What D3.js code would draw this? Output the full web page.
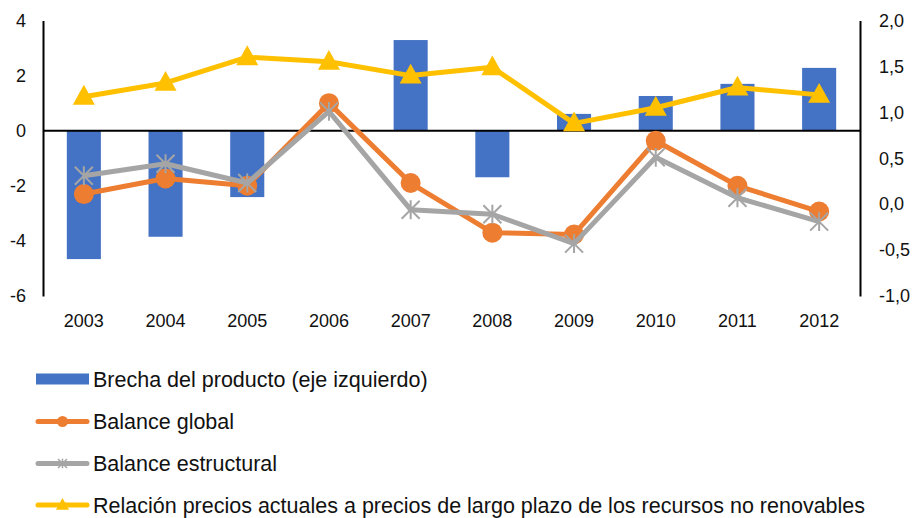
<!DOCTYPE html>
<html><head><meta charset="utf-8">
<script src="https://cdn.jsdelivr.net/npm/d3@7"></script>
<style>
html,body{margin:0;padding:0;background:#fff;}
svg{display:block;font-family:"Liberation Sans",Arial,sans-serif;}
</style></head>
<body><svg id="c" width="914" height="518"></svg>
<script>
const years = ["2003","2004","2005","2006","2007","2008","2009","2010","2011","2012"];
const brecha = [-4.66,-3.85,-2.41,0,3.29,-1.69,0.61,1.26,1.70,2.28];
const balanceGlobal = [0.11,0.28,0.20,1.10,0.23,-0.31,-0.33,0.69,0.20,-0.08];
const balanceEstructural = [0.31,0.44,0.23,1.01,-0.06,-0.11,-0.43,0.51,0.07,-0.19];
const relacionPrecios = [1.17,1.32,1.60,1.55,1.40,1.49,0.88,1.05,1.27,1.19];
const leftTicks = [-6,-4,-2,0,2,4];
const rightTicks = [-1,-0.5,0,0.5,1,1.5,2];
const legendLabels = ["Brecha del producto (eje izquierdo)","Balance global","Balance estructural","Relación precios actuales a precios de largo plazo de los recursos no renovables"];

const colors = {bar:"#4472C4", orange:"#ED7D31", grey:"#A5A5A5", yellow:"#FFC000"};
const svg = d3.select("#c");
const L = 43, R = 860, T = 20.5, B = 296;

const x = d3.scaleBand().domain(years).range([L,R]).paddingInner(0.583).paddingOuter(0.2915);
const cx = d => x(d) + x.bandwidth()/2;
const yL = d3.scaleLinear().domain([-6,4]).range([B,T]);
const yR = d3.scaleLinear().domain([-1,2]).range([B,T]);

const fmtR = d => d3.format(".1f")(d).replace(".",",").replace("−","-");

// axes
const gl = svg.append("g").attr("transform",`translate(${L},0)`)
  .call(d3.axisLeft(yL).tickValues(leftTicks).tickSize(0).tickSizeOuter(0).tickPadding(17).tickFormat(d=>String(d)));
const gr = svg.append("g").attr("transform",`translate(${R},0)`)
  .call(d3.axisRight(yR).tickValues(rightTicks).tickSize(0).tickSizeOuter(0).tickPadding(19).tickFormat(fmtR));
const gb = svg.append("g").attr("transform",`translate(0,${B})`)
  .call(d3.axisBottom(x).tickSize(0).tickPadding(18));
gb.select(".domain").remove();
[gl,gr].forEach(g=>g.select(".domain").attr("stroke","#000").attr("stroke-width",2));
[gl,gr,gb].forEach(g=>g.selectAll("text").attr("font-size",18).attr("fill","#111").attr("font-family","Liberation Sans, Arial, sans-serif"));

// bars
svg.append("g").selectAll("rect").data(years.map((y,i)=>({y,v:brecha[i]})).filter(d=>d.v!==0))
  .join("rect")
  .attr("x",d=>x(d.y)).attr("width",x.bandwidth())
  .attr("y",d=>yL(Math.max(0,d.v))).attr("height",d=>Math.abs(yL(d.v)-yL(0)))
  .attr("fill",colors.bar);

// zero line
svg.append("line").attr("x1",L).attr("x2",R).attr("y1",yL(0)).attr("y2",yL(0))
  .attr("stroke","#000").attr("stroke-width",2);

const line = d3.line().x((d,i)=>cx(years[i])).y(d=>yR(d));

function star(g, px, py, s, w){
  const a = s/2;
  const d = `M${px-a},${py-a}L${px+a},${py+a}M${px-a},${py+a}L${px+a},${py-a}M${px},${py-a*1.05}L${px},${py+a*1.05}`;
  g.append("path").attr("d",d).attr("stroke",colors.grey).attr("stroke-width",w).attr("fill","none");
}
function tri(g, px, py, s){
  const h = s*0.9;
  g.append("path").attr("d",`M${px},${py-h*0.6}L${px+s/2},${py+h*0.4}L${px-s/2},${py+h*0.4}Z`).attr("fill",colors.yellow);
}

// orange
svg.append("path").datum(balanceGlobal).attr("d",line).attr("fill","none").attr("stroke",colors.orange).attr("stroke-width",5).attr("stroke-linejoin","round");
svg.append("g").selectAll("circle").data(balanceGlobal).join("circle")
  .attr("cx",(d,i)=>cx(years[i])).attr("cy",d=>yR(d)).attr("r",10).attr("fill",colors.orange);
// grey
svg.append("path").datum(balanceEstructural).attr("d",line).attr("fill","none").attr("stroke",colors.grey).attr("stroke-width",5).attr("stroke-linejoin","round");
const gs = svg.append("g");
balanceEstructural.forEach((d,i)=>star(gs,cx(years[i]),yR(d),18,2));
// yellow
svg.append("path").datum(relacionPrecios).attr("d",line).attr("fill","none").attr("stroke",colors.yellow).attr("stroke-width",5).attr("stroke-linejoin","round");
const gt = svg.append("g");
relacionPrecios.forEach((d,i)=>tri(gt,cx(years[i]),yR(d),22));

// legend
const lg = svg.append("g");
const rowsY = [379,421.5,463.5,505];
const lx0 = 36, lx1 = 89, lmx = 62.5;
lg.append("rect").attr("x",lx0).attr("y",rowsY[0]-5.5).attr("width",lx1-lx0).attr("height",11).attr("fill",colors.bar);
lg.append("line").attr("x1",lx0+2).attr("x2",lx1-2).attr("y1",rowsY[1]).attr("y2",rowsY[1]).attr("stroke",colors.orange).attr("stroke-width",5).attr("stroke-linecap","round");
lg.append("circle").attr("cx",lmx).attr("cy",rowsY[1]).attr("r",5.5).attr("fill",colors.orange);
lg.append("line").attr("x1",lx0+2).attr("x2",lx1-2).attr("y1",rowsY[2]).attr("y2",rowsY[2]).attr("stroke",colors.grey).attr("stroke-width",5).attr("stroke-linecap","round");
star(lg,lmx,rowsY[2],9,1.5);
lg.append("line").attr("x1",lx0+2).attr("x2",lx1-2).attr("y1",rowsY[3]).attr("y2",rowsY[3]).attr("stroke",colors.yellow).attr("stroke-width",5).attr("stroke-linecap","round");
tri(lg,lmx,rowsY[3],13);
lg.selectAll("text.lt").data(legendLabels).join("text").attr("class","lt")
  .attr("x",93).attr("y",(d,i)=>rowsY[i]).attr("dy","0.35em")
  .attr("font-size",21.5).attr("fill","#111").text(d=>d);
</script></body></html>
